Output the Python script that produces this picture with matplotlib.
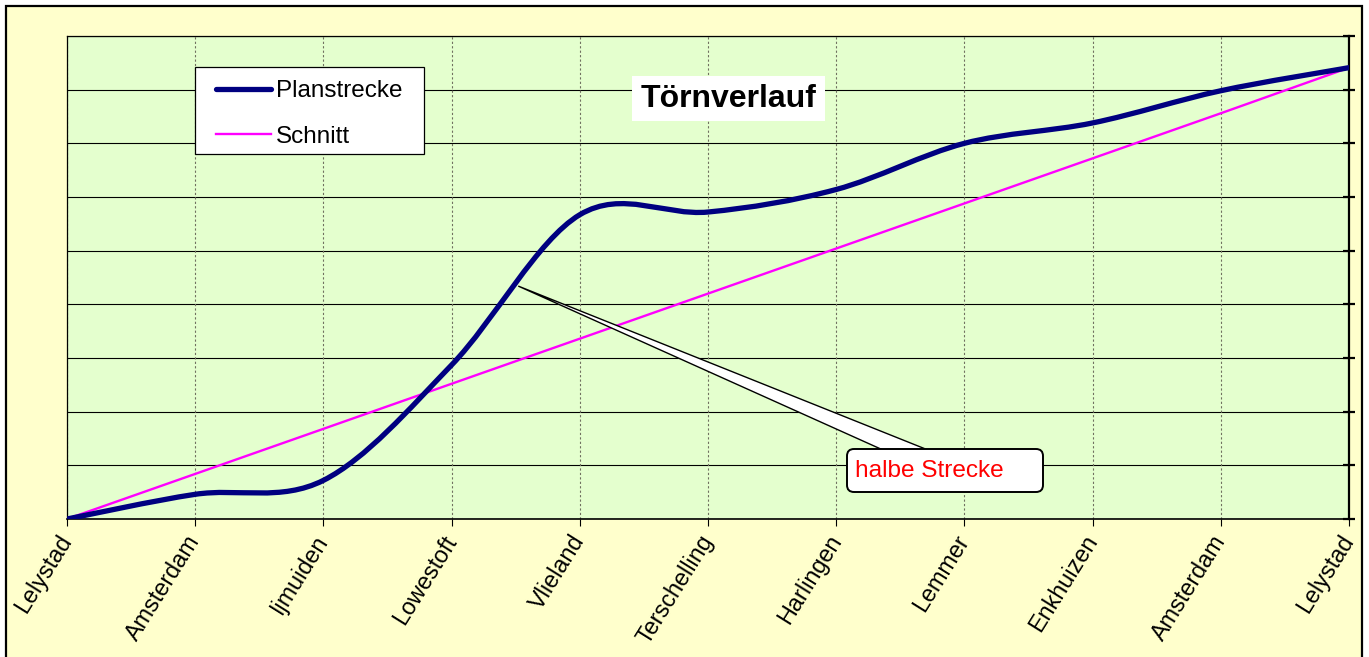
import matplotlib
matplotlib.use("Agg")
import matplotlib.pyplot as plt
from matplotlib.path import Path
from matplotlib.patches import PathPatch, Rectangle, FancyBboxPatch, Polygon
from matplotlib.lines import Line2D
from matplotlib.transforms import IdentityTransform
import numpy as np

plt.rcParams['font.family'] = ['Liberation Sans', 'DejaVu Sans']

# ---- data ----
categories = ["Lelystad", "Amsterdam", "Ijmuiden", "Lowestoft", "Vlieland",
              "Terschelling", "Harlingen", "Lemmer", "Enkhuizen", "Amsterdam", "Lelystad"]
planstrecke = [0, 23, 36, 143.5, 283.5, 286, 307, 350, 369, 399, 420.5]
schnitt = [0, 42, 84, 126, 168, 210, 252, 294, 336, 378, 420.5]
y_ticks = [0, 50, 100, 150, 200, 250, 300, 350, 400, 450]
title_text = "Törnverlauf"
callout_text = "halbe Strecke"
callout_tip = (3.52, 217)

W, H = 1369, 657
fig = plt.figure(figsize=(W / 100, H / 100), dpi=100, facecolor="white")

def fx(px):
    return px / W

def fy(py):
    return 1 - py / H

# chart area background with border
fig.patches.append(Rectangle((fx(6), fy(H + 10)), fx(1362) - fx(6), fy(6) - fy(H + 10),
                             transform=fig.transFigure, facecolor="#FFFFCC",
                             edgecolor="black", linewidth=1.6, zorder=-5))

ax = fig.add_axes([fx(67), fy(519), fx(1349) - fx(67), fy(36) - fy(519)])
ax.set_zorder(1)
ax.set_facecolor("#E4FFCE")
x = np.arange(len(categories))
ax.set_xlim(0, len(categories) - 1)
ax.set_ylim(y_ticks[0], y_ticks[-1])

# grid
for yv in y_ticks:
    ax.axhline(yv, color="black", lw=0.8, zorder=1)
for xv in x:
    ax.axvline(xv, color="#707060", lw=0.8, ls=(0, (2, 2)), zorder=1)

# smoothed Planstrecke (Catmull-Rom bezier, like Excel smoothing)
pts = np.column_stack([x, planstrecke]).astype(float)
verts = [tuple(pts[0])]
codes = [Path.MOVETO]
n = len(pts)
for i in range(n - 1):
    p0 = pts[i - 1] if i > 0 else pts[i]
    p1 = pts[i]
    p2 = pts[i + 1]
    p3 = pts[i + 2] if i + 2 < n else pts[i + 1]
    c1 = p1 + (p2 - p0) / 6.0
    c2 = p2 - (p3 - p1) / 6.0
    verts += [tuple(c1), tuple(c2), tuple(p2)]
    codes += [Path.CURVE4] * 3
ax.add_patch(PathPatch(Path(verts, codes), facecolor="none", edgecolor="#000080",
                       lw=3.8, capstyle="round", zorder=4))
ax.plot(x, schnitt, color="#FF00FF", lw=1.7, zorder=3)

# axes styling
for s in ["left", "top"]:
    ax.spines[s].set_linewidth(0.9)
ax.spines["bottom"].set_linewidth(1.2)
ax.spines["right"].set_linewidth(1.6)
ax.set_yticks(y_ticks)
ax.tick_params(axis="y", left=False, right=True, labelleft=False, labelright=False,
               direction="inout", length=9, width=1.6)
ax.set_xticks(x)
ax.set_xticklabels(categories, rotation=58, ha="right", va="center",
                   rotation_mode="anchor", fontsize=16.8)
ax.tick_params(axis="x", direction="out", length=5, width=0.8, pad=8)

# legend frame and entries
fig.patches.append(Rectangle((fx(195), fy(154)), fx(424) - fx(195), fy(67) - fy(154),
                             transform=fig.transFigure, facecolor="white",
                             edgecolor="black", linewidth=0.9, zorder=5))
handles = [Line2D([], [], color="#000080", lw=3.8, solid_capstyle="round"),
           Line2D([], [], color="#FF00FF", lw=1.7)]
leg = fig.legend(handles, ["Planstrecke", "Schnitt"], loc="upper left",
                 bbox_to_anchor=(fx(216), fy(80)), frameon=False, fontsize=17.5,
                 borderpad=0, borderaxespad=0, handlelength=2.25, handletextpad=0.2,
                 labelspacing=0.98)
leg.set_zorder(6)

# title box
fig.patches.append(Rectangle((fx(632), fy(121)), fx(825) - fx(632), fy(76) - fy(121),
                             transform=fig.transFigure, facecolor="white",
                             edgecolor="none", zorder=5))
fig.text(fx(728.5), fy(99), title_text, ha="center", va="center", fontsize=23,
         fontweight="bold", zorder=6)

# callout wedge + box
tip_disp = ax.transData.transform(callout_tip)
wedge = Polygon([tip_disp, (883, H - 450), (928, H - 450)], closed=True,
                transform=IdentityTransform(), facecolor="white", edgecolor="black",
                lw=1.0, zorder=7)
fig.patches.append(wedge)
box = FancyBboxPatch((847, H - 492), 1043 - 847, 492 - 449,
                     boxstyle="round,pad=0,rounding_size=7",
                     transform=IdentityTransform(), facecolor="white",
                     edgecolor="black", lw=1.4, zorder=8)
fig.patches.append(box)
fig.text(fx(855), fy(471), callout_text, ha="left", va="center", fontsize=17.6,
         color="#FF0000", zorder=9)

fig.savefig("out.png", dpi=100)
